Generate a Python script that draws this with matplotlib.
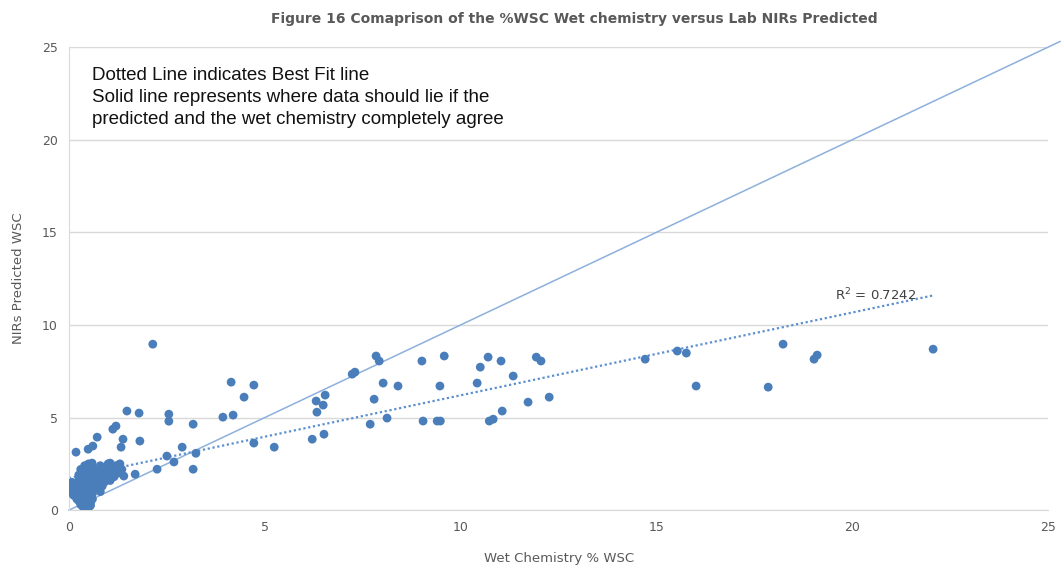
import matplotlib.pyplot as plt
import numpy as np

# %% --- datos: %WSC quimica humeda vs NIRs predicho ---

# grupo denso cerca del origen
wet_low = [0.05, 0.10, 0.12, 0.15, 0.20, 0.20, 0.25, 0.25, 0.30, 0.30, 0.30, 0.35,
           0.35, 0.40, 0.40, 0.40, 0.40, 0.45, 0.45, 0.45, 0.50, 0.50, 0.50, 0.50,
           0.55, 0.55, 0.55, 0.60, 0.60, 0.60, 0.65, 0.65, 0.70, 0.70, 0.75, 0.75,
           0.80, 0.80, 0.85, 0.90, 0.90, 0.95, 1.00, 1.00, 1.05, 1.10, 1.15, 1.20,
           1.30, 1.35, 1.25, 0.30, 0.20, 0.15, 0.35, 0.50, 0.55, 0.00, 0.08, 0.25,
           0.40, 0.65, 0.85, 0.45, 0.60]
nir_low = [0.95, 1.20, 0.80, 1.40, 1.00, 0.60, 1.60, 1.90, 1.20, 0.80, 2.20, 1.50,
           2.00, 0.50, 1.00, 1.80, 2.40, 0.30, 1.30, 2.10, 0.15, 0.70, 1.60, 2.50,
           1.10, 1.90, 0.40, 2.30, 1.40, 0.90, 1.70, 2.00, 1.20, 2.20, 1.50, 1.90,
           2.40, 1.00, 1.80, 2.10, 1.50, 2.30, 1.90, 2.50, 1.60, 2.20, 1.80, 2.40,
           2.50, 2.20, 2.00, 0.30, 1.30, 1.10, 0.20, 0.20, 0.25, 1.00, 1.50, 0.50,
           0.70, 1.40, 1.30, 0.90, 0.60]

# resto de las muestras
wet_rest = [0.18, 0.49, 0.61, 0.72, 1.12, 1.20, 1.38, 1.33, 1.81, 1.30, 1.69, 2.25,
            2.50, 2.68, 3.17, 3.24, 2.89, 1.05, 0.59, 1.40,
            2.14, 1.48, 1.79, 2.55, 2.55, 3.17, 3.93, 4.19, 4.14, 4.72, 4.47, 4.72,
            5.24, 6.21, 6.51, 6.33, 6.49, 6.31, 6.54, 7.23, 7.30, 7.84, 7.92, 9.01,
            9.58, 10.70, 11.03, 11.93, 12.05, 10.50, 11.34, 8.02, 8.40, 9.47, 10.42,
            7.79, 7.69, 8.12, 9.04, 9.40, 9.48, 10.73, 10.83, 11.06, 11.72, 12.26,
            14.71, 15.53, 15.76, 16.01, 17.85, 18.23, 19.02, 19.10, 22.06]
nir_rest = [3.13, 3.29, 3.46, 3.94, 4.37, 4.54, 3.83, 3.40, 3.73, 2.30, 1.94, 2.21,
            2.92, 2.60, 2.21, 3.07, 3.40, 2.54, 2.54, 1.84,
            8.96, 5.35, 5.24, 5.18, 4.80, 4.64, 5.02, 5.13, 6.91, 6.75, 6.10, 3.62,
            3.40, 3.83, 4.10, 5.29, 5.67, 5.89, 6.21, 7.34, 7.45, 8.32, 8.05, 8.05,
            8.32, 8.26, 8.05, 8.26, 8.05, 7.72, 7.24, 6.86, 6.70, 6.70, 6.86,
            5.99, 4.64, 4.97, 4.81, 4.81, 4.81, 4.81, 4.91, 5.35, 5.83, 6.10,
            8.15, 8.59, 8.48, 6.70, 6.64, 8.96, 8.15, 8.37, 8.69]

wet = np.array(wet_low + wet_rest)
nir = np.array(nir_low + nir_rest)

# linea de tendencia (Excel)
pendiente = 0.447
ordenada = 1.73
r2 = 0.7242

# %% --- grafico ---

azul = '#4a7ebb'
azul_claro = '#8db0dc'
gris = '#595959'

fig = plt.figure(figsize=(10.61, 5.70), dpi=100)
ax = fig.add_axes([0.065, 0.105, 0.923, 0.8125])

ax.scatter(wet, nir, s=40, color=azul, edgecolors='none', zorder=3)

# linea 1:1
xx = np.array([0, 25.3])
ax.plot(xx, xx, color=azul_claro, lw=1.1, clip_on=False, zorder=2)

# mejor ajuste
xf = np.array([0, wet.max()])
ax.plot(xf, ordenada + pendiente * xf, color='#5b8fd0', lw=1.6,
        linestyle=(0, (1, 1.2)), zorder=2)
ax.text(20.6, 11.6, 'R$^2$ = %.4f' % r2, fontsize=9.5, color='#404040',
        ha='center', va='center')

ax.set_xlim(0, 25)
ax.set_ylim(0, 25)
ax.set_xticks(np.arange(0, 26, 5))
ax.set_yticks(np.arange(0, 26, 5))
ax.grid(axis='y', color='#d9d9d9', lw=1)
ax.set_axisbelow(True)
for s in ['top', 'right']:
    ax.spines[s].set_visible(False)
for s in ['left', 'bottom']:
    ax.spines[s].set_color('#d9d9d9')
ax.tick_params(length=0, labelsize=9, colors=gris, pad=8)

fig.text(0.541, 0.967,
         'Figure 16 Comaprison of the %WSC Wet chemistry versus Lab NIRs Predicted',
         ha='center', va='center', fontsize=10, color=gris, fontweight='semibold')
ax.set_xlabel('Wet Chemistry % WSC', fontsize=9.5, color=gris, labelpad=13)
ax.set_ylabel('NIRs Predicted WSC', fontsize=9.5, color=gris, labelpad=12)

ax.text(0.6, 23.9,
        'Dotted Line indicates Best Fit line\n'
        'Solid line represents where data should lie if the\n'
        'predicted and the wet chemistry completely agree',
        fontsize=13.5, color='#111111', va='top', ha='left', linespacing=1.35,
        family='Liberation Sans')

plt.savefig('out.png', dpi=100)
